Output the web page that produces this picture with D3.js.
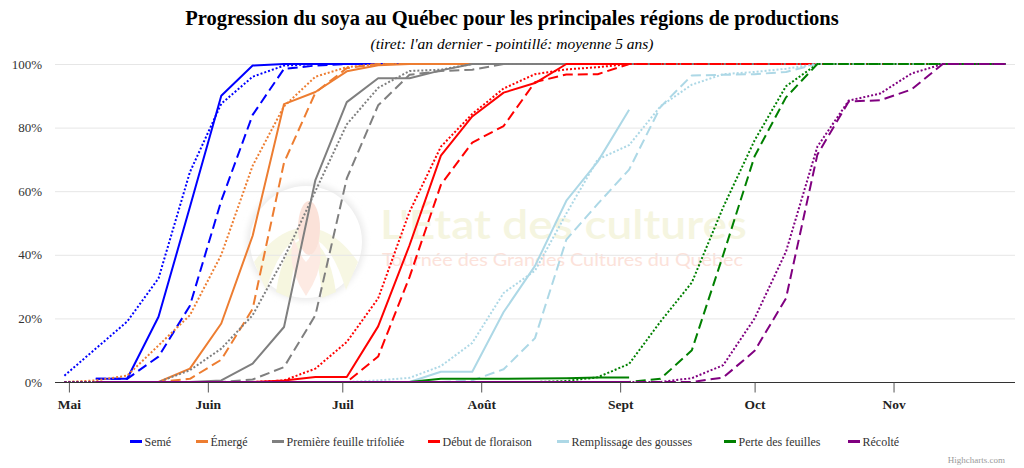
<!DOCTYPE html>
<html>
<head>
<meta charset="utf-8">
<script src="https://cdn.jsdelivr.net/npm/d3@7/dist/d3.min.js"></script>
<style>
  html, body { margin: 0; padding: 0; background: #fff; }
  svg { display: block; }
</style>
</head>
<body>
<svg id="chart" width="1024" height="468"></svg>
<script>
// ---------- DATA ----------
const dates = ["2021-04-30","2021-05-07","2021-05-14","2021-05-21","2021-05-28","2021-06-04","2021-06-11",
  "2021-06-18","2021-06-25","2021-07-02","2021-07-09","2021-07-16","2021-07-23","2021-07-30","2021-08-06",
  "2021-08-13","2021-08-20","2021-08-27","2021-09-03","2021-09-10","2021-09-17","2021-09-24","2021-10-01",
  "2021-10-08","2021-10-15","2021-10-22","2021-10-29","2021-11-05","2021-11-12","2021-11-19","2021-11-26"];

const stageNames = ["Semé","Émergé","Première feuille trifoliée","Début de floraison","Remplissage des gousses","Perte des feuilles","Récolté"];
const stageColors = ["#0000ff","#ed7d31","#7f7f7f","#ff0000","#add8e6","#008000","#800080"];
const monthLabels = ["Mai","Juin","Juil","Août","Sept","Oct","Nov"];
const yTicks = [0,20,40,60,80,100];

const N = null;
// Semé
const semeActuel  = [N,1,1,20.5,55,90,99.5,100,100,100,100,100,100,100,100,100,100,100,100];
const semeDernier = [N,1,1,8,24,57,84,98.5,99.5,100,100,100,100,100,100,100,100,100,100,100,100,100,100,100,100,100,100,100,100,100,100];
const semeMoyenne = [2,10.5,19,32.6,66,87.5,96,99.5,100,100,100,100,100,100,100,100,100,100,100,100,100,100,100,100,100,100,100,100,100,100,100];
// Émergé
const emergeActuel  = [N,0,0,0,4.2,18.4,46,87.4,91.2,97.7,99.6,100,100,100,100,100,100,100,100];
const emergeDernier = [N,0,0,0,1,7,23,69,91,98.7,100,100,100,100,100,100,100,100,100,100,100,100,100,100,100,100,100,100,100,100,100];
const emergeMoyenne = [0,0.5,2,11.5,21,40,68,86.7,96,99,100,100,100,100,100,100,100,100,100,100,100,100,100,100,100,100,100,100,100,100,100];
// Première feuille trifoliée
const feuilleActuel  = [N,0,0,0,0,0.5,5.8,17.3,63.5,88,95.5,95.5,98,100,100,100,100,100,100];
const feuilleDernier = [N,0,0,0,0,0,0.8,4.7,21,64,87,96.6,97.8,98.2,100,100,100,100,100,100,100,100,100,100,100,100,100,100,100,100,100];
const feuilleMoyenne = [0,0,0,0,3.7,10.5,21,39,60,81,92.5,97.8,98.2,100,100,100,100,100,100,100,100,100,100,100,100,100,100,100,100,100,100];
// Début de floraison
const floraisonActuel  = [N,0,0,0,0,0,0,0.5,1.6,1.6,17.5,43,71.2,83.5,91,94,100,100,100];
const floraisonDernier = [N,0,0,0,0,0,0,0,0,0,8,33,62,75.3,80.5,94.3,96.7,96.8,100,100,100,100,100,100,100,100,100,100,100,100,100];
const floraisonMoyenne = [0,0,0,0,0,0,0,0.5,4.2,12.6,26.3,53.5,74,84.3,92.3,96.8,98.3,99,100,100,100,100,100,100,100,100,100,100,100,100,100];
// Remplissage des gousses
const goussesActuel  = [N,0,0,0,0,0,0,0,0,0,0,0,3.2,3.2,22,36.5,57,69.3,85.6];
const goussesDernier = [N,0,0,0,0,0,0,0,0,0,0,0,0,0.5,4,13.8,44.8,56,66.8,86.5,96.4,96.6,96.8,97.5,100,100,100,100,100,100,100];
const goussesMoyenne = [0,0,0,0,0,0,0,0,0,0,0.5,1.3,5,12.3,28,35,53,70,74.5,86.7,93.5,96.8,97.5,98.5,100,100,100,100,100,100,100];
// Perte des feuilles
const perteActuel  = [N,0,0,0,0,0,0,0,0,0,0,0,1,1,1,1.1,1.2,1.4,1.4];
const perteDernier = [N,0,0,0,0,0,0,0,0,0,0,0,0,0,0,0,0,0,0,1,10,40,71,89.5,100,100,100,100,100,100,100];
const perteMoyenne = [0,0,0,0,0,0,0,0,0,0,0,0,0,0,0,0,0.3,1.5,5.7,19,31.3,55,76,93,100,100,100,100,100,100,100];
// Récolté
const recolteActuel  = [N,0,0,0,0,0,0,0,0,0,0,0,0,0,0,0,0,0,0];
const recolteDernier = [N,0,0,0,0,0,0,0,0,0,0,0,0,0,0,0,0,0,0,0,0,1.4,9.8,26.3,71.5,88.2,88.6,92,100,100,100];
const recolteMoyenne = [0,0,0,0,0,0,0,0,0,0,0,0,0,0,0,0,0,0,0,0,1.2,5.3,20,41,74,88.5,90.7,97,100,100,100];

const seriesByStage = [
  [semeActuel, semeDernier, semeMoyenne],
  [emergeActuel, emergeDernier, emergeMoyenne],
  [feuilleActuel, feuilleDernier, feuilleMoyenne],
  [floraisonActuel, floraisonDernier, floraisonMoyenne],
  [goussesActuel, goussesDernier, goussesMoyenne],
  [perteActuel, perteDernier, perteMoyenne],
  [recolteActuel, recolteDernier, recolteMoyenne]
];
const dashStyles = [null, "10,5", "2,2"]; // actuel, an dernier (tiret), moyenne 5 ans (pointillé)

// ---------- LAYOUT ----------
const W = 1024, H = 468;
const plot = { left: 55, right: 1015, top: 64, bottom: 382 };
const legendX = [130, 196, 272, 428, 557, 724, 848];
const serif = "'Liberation Serif', 'Times New Roman', serif";

const svg = d3.select("#chart");
const parse = d3.utcParse("%Y-%m-%d");
const dateObjs = dates.map(parse);
const first = dateObjs[0], last = dateObjs[dateObjs.length - 1];
const span = last - first;
const x = d3.scaleUtc()
  .domain([new Date(+first - span * 0.01), new Date(+last + span * 0.01)])
  .range([plot.left, plot.right]);
const y = d3.scaleLinear().domain([0, 100]).range([plot.bottom, plot.top]);

// ---------- WATERMARK ----------
const wm = svg.append("g").attr("class", "watermark");
const defs = svg.append("defs");
const f = defs.append("filter").attr("id", "soft").attr("x", "-30%").attr("y", "-30%").attr("width", "160%").attr("height", "160%");
f.append("feGaussianBlur").attr("stdDeviation", 3);
wm.append("circle").attr("cx", 306).attr("cy", 242).attr("r", 59)
  .attr("fill", "#ebebeb").attr("filter", "url(#soft)");
wm.append("circle").attr("cx", 306).attr("cy", 242).attr("r", 56).attr("fill", "#ffffff");
// fields (yellow arcs)
wm.append("path").attr("d", "M254,262 Q275,232 300,228 L300,238 Q280,244 266,290 Z").attr("fill", "#f7f7e3");
wm.append("path").attr("d", "M358,262 Q337,232 312,228 L312,238 Q332,244 346,290 Z").attr("fill", "#f7f7e3");
wm.append("path").attr("d", "M276,292 Q282,250 300,240 L302,248 Q292,262 290,298 Z").attr("fill", "#f6f6df");
wm.append("path").attr("d", "M336,292 Q330,250 312,240 L310,248 Q320,262 322,298 Z").attr("fill", "#f6f6df");
// corn (pink)
wm.append("path").attr("d", "M306,296 Q285,265 294,238 Q300,256 306,262 Q312,256 318,238 Q327,265 306,296 Z").attr("fill", "#fdeae3");
wm.append("ellipse").attr("cx", 309).attr("cy", 228).attr("rx", 11).attr("ry", 27).attr("fill", "#fbe2d9");
wm.append("text").attr("x", 380).attr("y", 239)
  .attr("font-family", "Lato, 'Open Sans', sans-serif").attr("font-size", 41).attr("font-weight", 600)
  .attr("textLength", 367).attr("lengthAdjust", "spacingAndGlyphs")
  .attr("fill", "#f5f5e0").text("L'État des cultures");
wm.append("text").attr("x", 382).attr("y", 266)
  .attr("font-family", "Lato, 'Open Sans', sans-serif").attr("font-size", 17)
  .attr("textLength", 361).attr("lengthAdjust", "spacingAndGlyphs")
  .attr("fill", "#fce2da").text("Tournée des Grandes Cultures du Québec");

// ---------- GRID ----------
svg.append("g").selectAll("line").data(yTicks).join("line")
  .attr("x1", plot.left).attr("x2", plot.right)
  .attr("y1", d => y(d) + 0.5).attr("y2", d => y(d) + 0.5)
  .attr("stroke", "#e6e6e6").attr("stroke-width", 1);

// ---------- TITLES ----------
svg.append("text").attr("x", W / 2).attr("y", 25).attr("text-anchor", "middle")
  .attr("font-family", serif).attr("font-size", 20.5).attr("font-weight", 700)
  .attr("fill", "#000").text("Progression du soya au Québec pour les principales régions de productions");
svg.append("text").attr("x", W / 2).attr("y", 49).attr("text-anchor", "middle")
  .attr("font-family", serif).attr("font-size", 15.5).attr("font-style", "italic")
  .attr("fill", "#000").text("(tiret: l'an dernier - pointillé: moyenne 5 ans)");

// ---------- Y AXIS ----------
const yAxis = d3.axisLeft(y).tickValues(yTicks).tickSize(0).tickPadding(0).tickFormat(d => d + "%");
const gy = svg.append("g").attr("transform", `translate(${42},0)`).call(yAxis);
gy.select(".domain").remove();
gy.selectAll("text").attr("font-family", serif).attr("font-size", 13).attr("fill", "#333");

// ---------- SERIES ----------
const line = d3.line()
  .defined(d => d.v !== null)
  .x(d => x(d.t)).y(d => y(d.v));
const gSeries = svg.append("g");
seriesByStage.forEach((group, si) => {
  group.forEach((vals, k) => {
    const pts = vals.map((v, i) => ({ t: dateObjs[i], v: v }));
    gSeries.append("path").datum(pts)
      .attr("d", line)
      .attr("fill", "none")
      .attr("stroke", stageColors[si])
      .attr("stroke-width", 2)
      .attr("stroke-linejoin", "round")
      .attr("stroke-dasharray", dashStyles[k]);
  });
});

// ---------- X AXIS ----------
const monthTicks = d3.utcMonth.range(d3.utcMonth.ceil(x.domain()[0]), x.domain()[1]);
const xAxis = d3.axisBottom(x).tickValues(monthTicks).tickSize(10).tickPadding(7)
  .tickFormat((d, i) => monthLabels[i]);
const gx = svg.append("g").attr("transform", `translate(0,${plot.bottom + 0.5})`).call(xAxis);
gx.select(".domain").attr("d", `M${plot.left},0H${plot.right}`).attr("stroke", "#333");
gx.selectAll(".tick line").attr("stroke", "#555");
gx.selectAll("text").attr("font-family", serif)
  .attr("font-size", 13.5).attr("font-weight", 700).attr("fill", "#222");

// ---------- LEGEND ----------
const lg = svg.append("g");
stageNames.forEach((name, i) => {
  lg.append("line").attr("x1", legendX[i]).attr("x2", legendX[i] + 12)
    .attr("y1", 441.5).attr("y2", 441.5)
    .attr("stroke", stageColors[i]).attr("stroke-width", 3);
  lg.append("text").attr("x", legendX[i] + 14.5).attr("y", 445.5)
    .attr("font-family", serif).attr("font-size", 12)
    .attr("fill", "#333").text(name);
});

// ---------- CREDITS ----------
svg.append("text").attr("x", 1005).attr("y", 463).attr("text-anchor", "end")
  .attr("font-family", serif).attr("font-size", 9)
  .attr("fill", "#999").text("Highcharts.com");
</script>
</body>
</html>
